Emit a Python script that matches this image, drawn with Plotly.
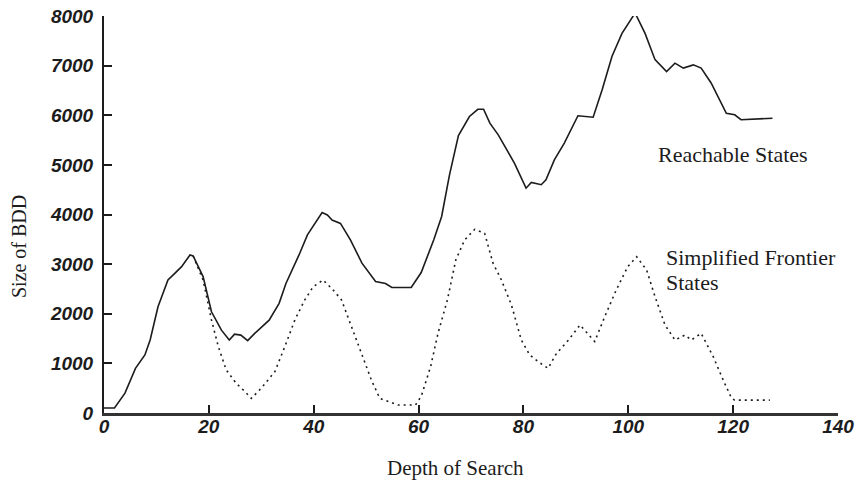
import plotly.graph_objects as go

# Reachable States (solid)
reach_x = [0, 2, 4, 6, 7.8, 8.8, 10.3, 12.2, 13.5, 14.8, 16.4, 17, 18.9, 20.5, 22.4, 23.9, 24.9, 26.1,
           27.4, 28.7, 31.5, 33.4, 34.7, 37.2, 38.8, 40.7, 41.6, 42.6, 43.5, 45.1, 47, 49.2, 51.8,
           53.7, 54.9, 58.6, 60.5, 62.9, 64.4, 65.9, 67.6, 69.7, 71.3, 72.4, 73.6, 75.2, 77.1, 78.3,
           80.5, 81.5, 83.4, 84.3, 85.9, 87.8, 90.4, 93.3, 95, 96.9, 98.8, 100, 101.3, 103.2, 105.1,
           107.3, 108.9, 110.5, 112.4, 113.9, 115.8, 118.7, 120.3, 121.5, 127.5]
reach_y = [100, 100, 400, 900, 1170, 1470, 2140, 2680, 2815, 2950, 3185, 3165, 2750, 2040, 1670, 1470,
           1590, 1570, 1460, 1600, 1870, 2210, 2610, 3185, 3590, 3890, 4040, 3990, 3890, 3820, 3490,
           3020, 2650, 2610, 2530, 2530, 2830, 3490, 3960, 4800, 5590, 5975, 6120, 6120, 5840, 5605,
           5270, 5030, 4530, 4645, 4600, 4700, 5100, 5440, 5990, 5960, 6510, 7190, 7650, 7855, 8060,
           7650, 7120, 6880, 7050, 6950, 7015, 6950, 6650, 6040, 6010, 5910, 5940]

# Simplified Frontier States (dotted)
front_x = [17, 18.9, 20.5, 21.8, 23.3, 25.2, 26.9, 28.1, 30.0, 32.6, 34.5, 36.4, 38.3, 39.9, 41.8,
           43.7, 45.3, 47.2, 49.1, 51.0, 52.6, 54.5, 56.1, 59.4, 60.5, 62.3, 63.7, 65.5, 67.1, 68.8,
           70.7, 72.6, 74.2, 75.8, 77.7, 79.6, 81.2, 82.8, 84.7, 86.3, 88.6, 90.8, 93.6, 95.5, 97.7,
           99.9, 101.6, 103.5, 105.1, 107, 108.9, 110.8, 112, 113.9, 116.2, 118.1, 119.7, 120.3, 127]
front_y = [3165, 2680, 1875, 1340, 870, 600, 430, 295, 500, 835, 1340, 1875, 2280, 2545, 2680,
           2480, 2280, 1740, 1200, 665, 295, 230, 160, 160, 335, 935, 1605, 2280, 3085, 3490,
           3700, 3620, 3020, 2680, 2180, 1470, 1170, 1035, 900, 1200, 1470, 1775, 1440, 1940, 2480,
           2950, 3150, 2880, 2345, 1775, 1470, 1570, 1470, 1605, 1135, 665, 295, 260, 260]

x_ticks = [0, 20, 40, 60, 80, 100, 120, 140]
y_ticks = [0, 1000, 2000, 3000, 4000, 5000, 6000, 7000, 8000]

ink = "#1c1c1c"
serif = "Liberation Serif, Times New Roman, serif"
sans = "Liberation Sans, Arial, sans-serif"

fig = go.Figure()
fig.add_trace(go.Scatter(x=front_x, y=front_y, mode="lines",
                         line=dict(color=ink, width=1.6, dash="2px,4px"),
                         cliponaxis=False, showlegend=False, hoverinfo="skip"))
fig.add_trace(go.Scatter(x=reach_x, y=reach_y, mode="lines",
                         line=dict(color=ink, width=1.6),
                         cliponaxis=False, showlegend=False, hoverinfo="skip"))

tickfont = dict(family=sans, size=19, color=ink, weight="bold", style="italic")

fig.update_xaxes(range=[0, 140], tickvals=x_ticks, ticktext=[str(v) for v in x_ticks],
                 showline=True, linecolor="#333333", linewidth=3,
                 ticks="inside", ticklen=8, tickwidth=2, tickcolor=ink, automargin=False,
                 showgrid=False, zeroline=False, tickfont=tickfont,
                 ticklabelstandoff=-6, ticklabeloverflow="allow")
fig.update_yaxes(range=[0, 8000], tickvals=y_ticks, ticktext=[str(v) for v in y_ticks],
                 showline=True, linecolor=ink, linewidth=2, automargin=False,
                 ticks="inside", ticklen=8, tickwidth=2, tickcolor=ink,
                 showgrid=False, zeroline=False, tickfont=tickfont,
                 ticklabelstandoff=5, ticklabeloverflow="allow")

fig.add_annotation(x=105.2, y=5200, text="Reachable States", showarrow=False,
                   xanchor="left", yanchor="middle",
                   font=dict(family=serif, size=22, color=ink))
fig.add_annotation(x=106.9, y=3125, text="Simplified Frontier", showarrow=False,
                   xanchor="left", yanchor="middle",
                   font=dict(family=serif, size=22, color=ink))
fig.add_annotation(x=106.9, y=2620, text="States", showarrow=False,
                   xanchor="left", yanchor="middle",
                   font=dict(family=serif, size=22, color=ink))
fig.add_annotation(x=67.0, xref="x", y=-0.139, yref="paper", text="Depth of Search",
                   showarrow=False, xanchor="center", yanchor="middle",
                   font=dict(family=serif, size=21, color=ink))
fig.add_annotation(x=-0.116, xref="paper", y=0.42, yref="paper", text="Size of BDD",
                   showarrow=False, textangle=-90, xanchor="center", yanchor="middle",
                   font=dict(family=serif, size=20, color=ink))

fig.update_layout(width=861, height=483,
                  margin=dict(l=104, r=23, t=16, b=70, autoexpand=False),
                  paper_bgcolor="white", plot_bgcolor="white", hovermode=False)

# remove the browser's default 8px body margin so the figure fills the window
fig.write_html("out.html", config={"displayModeBar": False},
               post_script="document.body.style.margin='0px';document.body.style.overflow='hidden';")
